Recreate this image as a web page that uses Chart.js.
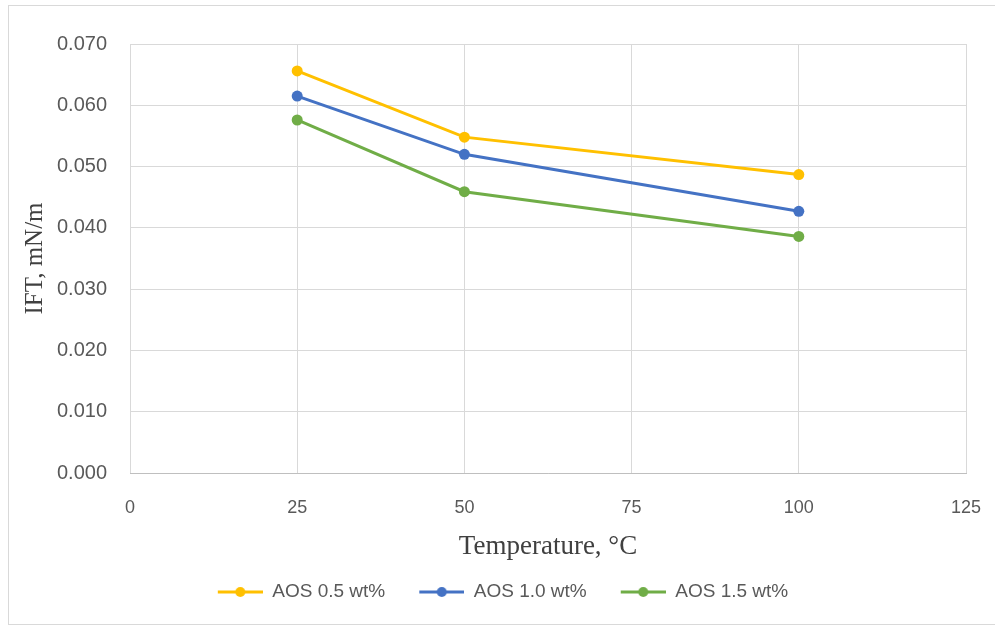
<!DOCTYPE html>
<html>
<head>
<meta charset="utf-8">
<script src="https://cdn.jsdelivr.net/npm/chart.js@4"></script>
<style>
    body { margin: 0; background: #fff; }
    #wrap { position: relative; width: 995px; height: 628px; }
    #frame { position: absolute; left: 8px; top: 5px; width: 990px; height: 620px; border: 1px solid #d9d9d9; box-sizing: border-box; }
    canvas { position: absolute; left: 0; top: 0; }
</style>
</head>
<body>
<div id="wrap">
    <div id="frame"></div>
    <canvas id="ift" width="995" height="628"></canvas>
</div>
<script>
// 온도 (°C)
const temperatures = [25, 50, 100];
// IFT 값 (mN/m)
const aos05 = [0.0656, 0.0548, 0.0487];
const aos10 = [0.0615, 0.0520, 0.0427];
const aos15 = [0.0576, 0.0459, 0.0386];
const seriesNames = ['AOS 0.5 wt%', 'AOS 1.0 wt%', 'AOS 1.5 wt%'];
const seriesColors = ['#FFC000', '#4472C4', '#70AD47'];

// 범례용 선+점 아이콘 (왼쪽 20px은 항목 간격용 여백)
function legendIcon(color) {
    const c = document.createElement('canvas');
    c.width = 65;
    c.height = 12;
    const g = c.getContext('2d');
    g.strokeStyle = color;
    g.lineWidth = 3;
    g.beginPath();
    g.moveTo(20, 6);
    g.lineTo(65, 6);
    g.stroke();
    g.fillStyle = color;
    g.beginPath();
    g.arc(42.5, 6, 5, 0, Math.PI * 2);
    g.fill();
    return c;
}

function makeDataset(name, values, color) {
    return {
        label: name,
        data: temperatures.map((t, i) => ({ x: t, y: values[i] })),
        borderColor: color,
        backgroundColor: color,
        borderWidth: 3,
        pointRadius: 5.5,
        pointHoverRadius: 5.5,
        pointBorderWidth: 0,
        tension: 0
    };
}

const icons = seriesColors.map(legendIcon);
const tickColor = '#595959';

new Chart(document.getElementById('ift'), {
    type: 'line',
    data: {
        datasets: [
            makeDataset(seriesNames[0], aos05, seriesColors[0]),
            makeDataset(seriesNames[1], aos10, seriesColors[1]),
            makeDataset(seriesNames[2], aos15, seriesColors[2])
        ]
    },
    options: {
        responsive: false,
        animation: false,
        layout: { padding: { left: 20, top: 44, right: 29, bottom: 16.5 } },
        plugins: {
            tooltip: { enabled: false },
            legend: {
                position: 'bottom',
                labels: {
                    usePointStyle: true,
                    pointStyleWidth: 65,
                    padding: 14,
                    color: tickColor,
                    font: { family: 'Liberation Sans', size: 19 },
                    generateLabels: (chart) => {
                        const items = Chart.defaults.plugins.legend.labels.generateLabels(chart);
                        items.forEach((it, i) => { it.pointStyle = icons[i]; });
                        return items;
                    }
                }
            }
        },
        scales: {
            x: {
                type: 'linear',
                min: 0,
                max: 125,
                ticks: { stepSize: 25, color: tickColor, padding: 3, font: { family: 'Liberation Sans', size: 18 } },
                // 눈금 표시는 투명하게 두고 라벨 간격만 확보
                grid: { color: '#d9d9d9', drawTicks: true, tickLength: 21, tickColor: 'rgba(0,0,0,0)' },
                border: { color: '#bfbfbf' },
                title: {
                    display: true,
                    text: 'Temperature, °C',
                    color: '#404040',
                    padding: { top: 10, bottom: 5 },
                    font: { family: 'Liberation Serif', size: 27 }
                },
                afterFit: (s) => { s.height = 95.5; }
            },
            y: {
                min: 0,
                max: 0.07,
                ticks: {
                    stepSize: 0.01,
                    color: tickColor,
                    padding: 23,
                    font: { family: 'Liberation Sans', size: 20 },
                    callback: (v) => v.toFixed(3)
                },
                grid: { color: '#d9d9d9', drawTicks: false },
                border: { display: false },
                title: {
                    display: true,
                    text: 'IFT, mN/m',
                    color: '#404040',
                    padding: { top: 0, bottom: 10 },
                    font: { family: 'Liberation Serif', size: 25 }
                },
                afterFit: (s) => { s.width = 110; }
            }
        }
    }
});
</script>
</body>
</html>
